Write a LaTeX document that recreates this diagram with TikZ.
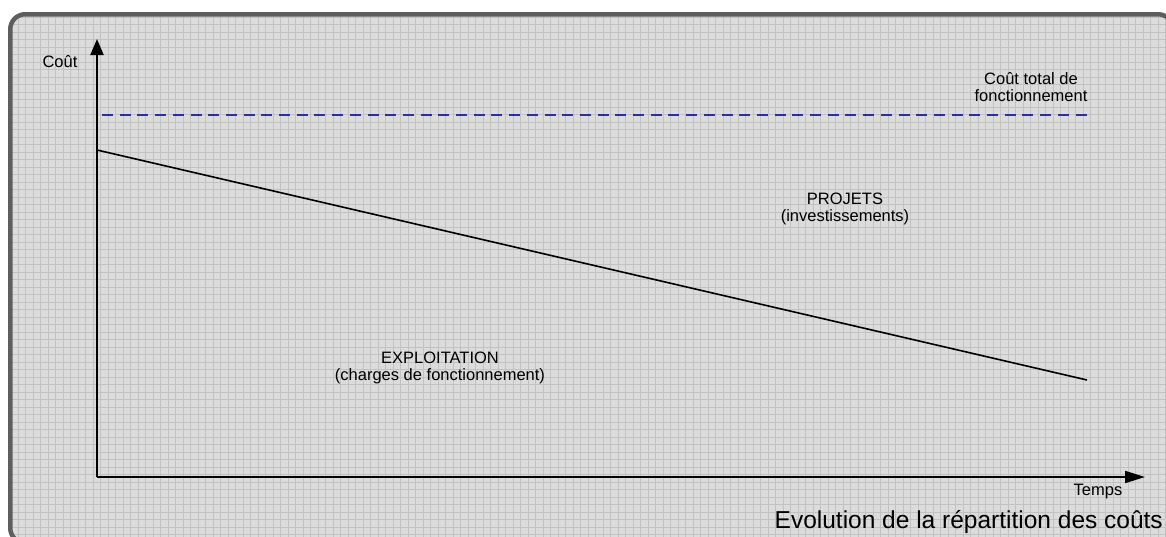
\documentclass[tikz,border=0pt]{standalone}
\usepackage{fontspec}
\setmainfont{Liberation Sans}
\usetikzlibrary{arrows.meta}
\definecolor{bgfill}{HTML}{DCDCDC}
\definecolor{gridcol}{HTML}{C2C2C2}
\definecolor{framecol}{HTML}{5E5E5E}
\definecolor{dashblue}{HTML}{2E2E9C}
\tikzset{
  lbl/.style={font=\fontsize{16.5}{17.5}\selectfont, inner sep=0pt, align=center, text=black},
  axisline/.style={line width=2pt, black},
  yarrow/.style={axisline, -{Triangle[length=16pt,width=13pt]}},
  xarrow/.style={axisline, -{Triangle[length=20pt,width=12pt]}},
  trendline/.style={line width=1.6pt, black},
  totalline/.style={line width=1.8pt, dashblue, dash pattern=on 11pt off 6.7pt},
}
\begin{document}
\begin{tikzpicture}[x=1pt,y=-1pt]
\useasboundingbox (0,0) rectangle (1166,536);
% background panel with grid
\fill[bgfill, rounded corners=15pt] (10.25,14.25) rectangle (1173,543);
\begin{scope}
  \clip[rounded corners=15pt] (10.25,14.25) rectangle (1173,543);
  \foreach \i in {0,...,157} {
    \draw[gridcol, line width=0.8pt] ({3.3+7.5*\i},0) -- ({3.3+7.5*\i},545);
  }
  \foreach \j in {0,...,73} {
    \draw[gridcol, line width=0.8pt] (0,{2+7.5*\j}) -- (1175,{2+7.5*\j});
  }
\end{scope}
\draw[framecol, line width=4.5pt, rounded corners=15pt] (10.25,14.25) rectangle (1173,543);

% axes
\coordinate (O) at (97,477);
\coordinate (ytop) at (97,39);
\coordinate (xend) at (1145,477);
\draw[yarrow] (O) -- (ytop);
\draw[xarrow] (O) -- (xend);

% lines
\coordinate (tstart) at (97,150);
\coordinate (tend) at (1087,380);
\draw[trendline] (tstart) -- (tend);
\coordinate (dstart) at (102,115);
\coordinate (dend) at (1088,115);
\draw[totalline] (dstart) -- (dend);

% labels
\node[lbl] (cout) at (60,62) {Coût};
\node[lbl] (total) at (1031,87) {Coût total de\\fonctionnement};
\node[lbl] (projets) at (845,209) {PROJETS\\(investissements)};
\node[lbl] (exploit) at (440,368) {EXPLOITATION\\(charges de fonctionnement)};
\node[lbl] (temps) at (1098,492) {Temps};
\node[font=\fontsize{24.5}{28}\selectfont, inner sep=0pt, anchor=base east] (title) at (1163,528) {Evolution de la répartition des coûts};
\end{tikzpicture}
\end{document}
